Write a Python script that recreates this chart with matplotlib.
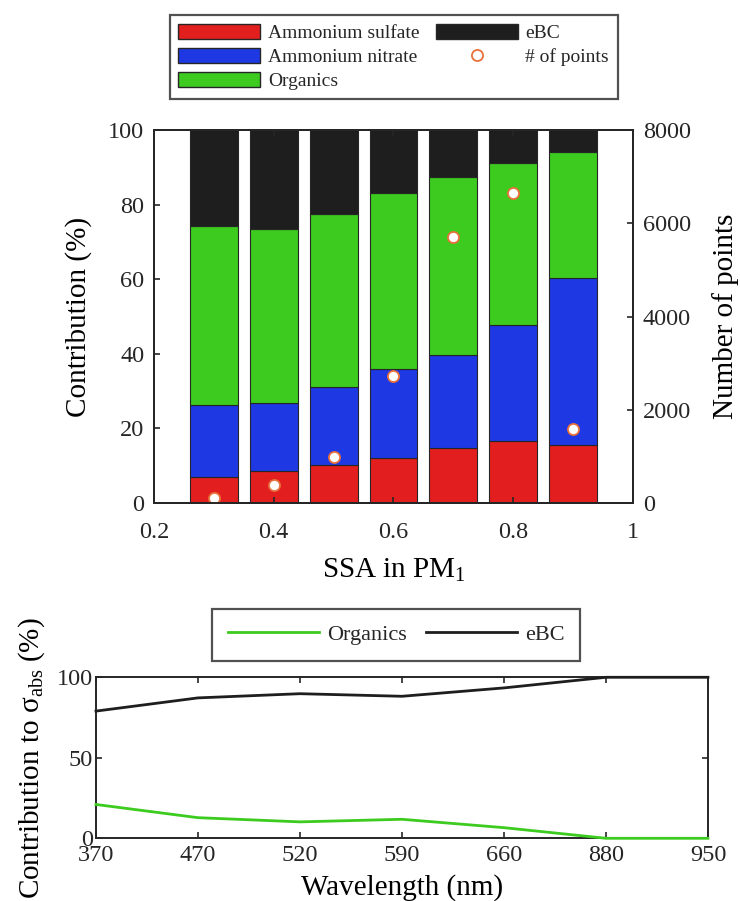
#!/usr/bin/env python3

import matplotlib
matplotlib.use("Agg")
import matplotlib.pyplot as plt
from matplotlib.patches import Patch
from matplotlib.lines import Line2D
import numpy as np

plt.rcParams['font.family'] = ['Liberation Serif', 'DejaVu Serif']
plt.rcParams['mathtext.fontset'] = 'custom'
plt.rcParams['mathtext.rm'] = 'Liberation Serif'
plt.rcParams['mathtext.it'] = 'Liberation Serif:italic'
plt.rcParams['text.color'] = '#262626'
plt.rcParams['xtick.color'] = '#262626'
plt.rcParams['ytick.color'] = '#262626'

# chemical composition binned by SSA (layer heights of each stack)
ssa = [0.3, 0.4, 0.5, 0.6, 0.7, 0.8, 0.9]
sulfate = [7.1, 8.6, 10.2, 12.0, 14.7, 16.7, 15.5]
nitrate = [19.1, 18.3, 20.8, 23.9, 25.0, 31.0, 44.9]
organics = [48.1, 46.6, 46.4, 47.1, 47.8, 43.5, 33.8]
ebc = [25.7, 26.5, 22.6, 17.0, 12.5, 8.8, 5.8]
n_points = [100, 390, 990, 2720, 5700, 6650, 1580]

# absorption apportionment per wavelength
wavelengths = ['370', '470', '520', '590', '660', '880', '950']
abs_organics = [21.0, 12.8, 10.2, 11.8, 6.6, 0.0, 0.0]
abs_ebc = [79.0, 87.2, 89.8, 88.2, 93.4, 100.0, 100.0]

colors = {'sulfate': '#E31E1E', 'nitrate': '#1E39E4', 'organics': '#3CCB1E',
          'ebc': '#1E1E1E', 'points': '#E8703A'}
edge = '#262626'

fig = plt.figure(figsize=(7.4, 9.01), dpi=100)

ax = fig.add_axes([0.2081, 0.4417, 0.6473, 0.414])
bottom = np.zeros(len(ssa))
for vals, key in [(sulfate, 'sulfate'), (nitrate, 'nitrate'),
                  (organics, 'organics'), (ebc, 'ebc')]:
    ax.bar(ssa, vals, width=0.08, bottom=bottom, color=colors[key],
           edgecolor=edge, linewidth=0.8)
    bottom += np.array(vals)

ax.set_xlim(0.2, 1.0)
ax.set_ylim(0, 100)
ax.set_xticks([0.2, 0.4, 0.6, 0.8, 1.0])
ax.set_xticklabels(['0.2', '0.4', '0.6', '0.8', '1'])
ax.set_yticks(np.arange(0, 101, 20))
ax.xaxis.set_ticks_position('both')
ax.tick_params(axis='x', direction='in', length=4, width=1.2, labelsize=17.5, pad=14)
ax.tick_params(axis='y', direction='in', length=4, width=1.2, labelsize=17.5, pad=7,
               right=False)
ax.set_xlabel('SSA in PM$_1$', fontsize=21)
ax.set_ylabel('Contribution (%)', fontsize=21)
ax.xaxis.set_label_coords(0.5, -0.145)
ax.yaxis.set_label_coords(-0.13, 0.5)

ax2 = ax.twinx()
ax2.plot(ssa, n_points, 'o', ms=8, mfc='white', mec=colors['points'], mew=1.3)
ax2.set_ylim(0, 8000)
ax2.set_yticks(np.arange(0, 8001, 2000))
ax2.tick_params(axis='y', direction='in', length=4, width=1.2, labelsize=17.5, pad=7)
ax2.set_ylabel('Number of points', fontsize=21)
ax2.yaxis.set_label_coords(1.165, 0.5)

for a in (ax, ax2):
    for s in a.spines.values():
        s.set_linewidth(1.4)
        s.set_color(edge)

handles = [Patch(facecolor=colors['sulfate'], edgecolor=edge, label='Ammonium sulfate'),
           Patch(facecolor=colors['nitrate'], edgecolor=edge, label='Ammonium nitrate'),
           Patch(facecolor=colors['organics'], edgecolor=edge, label='Organics'),
           Patch(facecolor=colors['ebc'], edgecolor=edge, label='eBC'),
           Line2D([], [], ls='none', marker='o', ms=8, mfc='white',
                  mec=colors['points'], mew=1.3, label='# of points')]
leg = fig.legend(handles=handles, loc='upper center', bbox_to_anchor=(0.532, 1 - 15 / 901),
                 ncol=2, fontsize=14, handlelength=4.2, handleheight=0.85,
                 handletextpad=0.4, columnspacing=0.85, labelspacing=0.28,
                 borderpad=0.45, borderaxespad=0, fancybox=False, frameon=True)
leg.get_frame().set_edgecolor(edge)
leg.get_frame().set_linewidth(1.6)

# lower panel: share of absorption
bx = fig.add_axes([0.1297, 0.0696, 0.827, 0.1787])
xi = np.arange(len(wavelengths))
bx.plot(xi, abs_organics, color=colors['organics'], lw=2.0, label='Organics',
        clip_on=False, zorder=3)
bx.plot(xi, abs_ebc, color='#1E1E1E', lw=2.0, label='eBC', clip_on=False, zorder=3)
bx.set_xlim(0, len(wavelengths) - 1)
bx.set_ylim(0, 100)
bx.set_xticks(xi)
bx.set_xticklabels(wavelengths)
bx.set_yticks([0, 50, 100])
bx.xaxis.set_ticks_position('both')
bx.yaxis.set_ticks_position('both')
bx.tick_params(axis='x', direction='in', length=4, width=1.2, labelsize=17.5, pad=5)
bx.tick_params(axis='y', direction='in', length=4, width=1.2, labelsize=17.5, pad=2)
bx.set_xlabel('Wavelength (nm)', fontsize=21)
bx.set_ylabel('Contribution to σ$_{\\mathrm{abs}}$ (%)', fontsize=21)
bx.xaxis.set_label_coords(0.5, -0.22)
bx.yaxis.set_label_coords(-0.08, 0.5)
for s in bx.spines.values():
    s.set_linewidth(1.4)
    s.set_color(edge)

leg2 = fig.legend(handles=bx.get_lines(), loc='upper center',
                  bbox_to_anchor=(0.535, 1 - 609 / 901), ncol=2, fontsize=16,
                  handlelength=4.1, handletextpad=0.36, columnspacing=0.86,
                  borderpad=0.7, borderaxespad=0, fancybox=False, frameon=True)
leg2.get_frame().set_edgecolor(edge)
leg2.get_frame().set_linewidth(1.6)

fig.savefig('out.png', dpi=100)
